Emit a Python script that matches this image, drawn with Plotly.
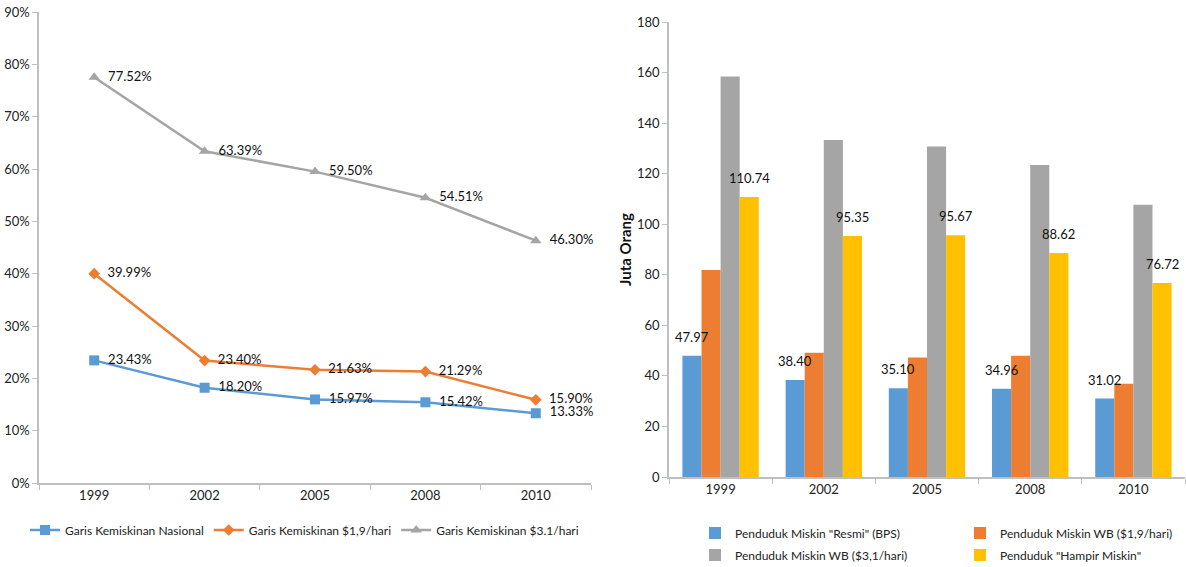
import plotly.graph_objects as go

years = ["1999", "2002", "2005", "2008", "2010"]

# Poverty rate (%) under three poverty lines
rate_nasional = [23.43, 18.20, 15.97, 15.42, 13.33]
rate_19 = [39.99, 23.40, 21.63, 21.29, 15.90]
rate_31 = [77.52, 63.39, 59.50, 54.51, 46.30]

# Poor population (million people)
pop_bps = [47.97, 38.40, 35.10, 34.96, 31.02]
pop_wb19 = [81.9, 49.2, 47.3, 48.0, 36.9]
pop_wb31 = [158.4, 133.3, 130.7, 123.4, 107.7]
pop_hampir = [110.74, 95.35, 95.67, 88.62, 76.72]

BLUE = "#5B9BD5"
ORANGE = "#ED7D31"
GREY = "#A5A5A5"
YELLOW = "#FFC000"
FONT = "Lato"
AXIS = "#BFBFBF"
BARGAP = 0.26
NBSP = "\u00a0"

fig = go.Figure()

line_specs = [
    ("Garis Kemiskinan Nasional", rate_nasional, BLUE, "square", 10),
    ("Garis Kemiskinan $1,9/hari", rate_19, ORANGE, "diamond", 9),
    ("Garis Kemiskinan $3.1/hari", rate_31, GREY, "triangle-up", 10),
]
for name, vals, col, sym, sz in line_specs:
    fig.add_trace(go.Scatter(
        x=years, y=vals, name=name, mode="lines+markers+text",
        line=dict(color=col, width=2.5),
        marker=dict(color=col, symbol=sym, size=sz),
        text=[f"{NBSP}{NBSP}{v:.2f}%" for v in vals],
        textposition="middle right",
        textfont=dict(family=FONT, size=13, color="#111"),
        xaxis="x", yaxis="y", legend="legend", cliponaxis=False,
    ))

# bar series: name, values, colour, value labels shown, legend row
bar_specs = [
    ('Penduduk Miskin "Resmi" (BPS)', pop_bps, BLUE, True, "legend2"),
    ("Penduduk Miskin WB ($1,9/hari)", pop_wb19, ORANGE, False, "legend2"),
    ("Penduduk Miskin WB ($3,1/hari)", pop_wb31, GREY, False, "legend3"),
    ('Penduduk "Hampir Miskin"', pop_hampir, YELLOW, True, "legend3"),
]
n_bars = len(bar_specs)
slot_w = (1 - BARGAP) / n_bars
annotations = []
for k, (name, vals, col, labelled, leg) in enumerate(bar_specs):
    fig.add_trace(go.Bar(
        x=years, y=vals, name=name, marker=dict(color=col, line=dict(width=0)),
        xaxis="x2", yaxis="y2", legend=leg,
    ))
    if labelled:
        offset = (k - (n_bars - 1) / 2) * slot_w
        for i, v in enumerate(vals):
            annotations.append(dict(
                x=i + offset, y=v, xref="x2", yref="y2", text=f"{v:.2f}",
                showarrow=False, yshift=19,
                font=dict(family=FONT, size=13, color="#111"),
            ))

W, H = 1186, 567
ml, mr, mt, mb = 39, 1, 12, 84
pw = W - ml - mr
ph = H - mt - mb

def px_x(p):
    return (p - ml) / pw

def px_y(p):
    return (H - mb - p) / ph

tick_font = dict(family=FONT, size=13, color="#222")
legend_font = dict(family=FONT, size=12, color="#222")

fig.update_layout(
    width=W, height=H,
    margin=dict(l=ml, r=mr, t=mt, b=mb, autoexpand=False),
    paper_bgcolor="white", plot_bgcolor="white",
    font=dict(family=FONT, color="#222"),
    barmode="group", bargap=BARGAP, bargroupgap=0,
    annotations=annotations,
    xaxis=dict(domain=[0, px_x(591)], type="category", range=[-0.5, 4.5],
               showgrid=False, showline=True, linecolor=AXIS, linewidth=1.5,
               ticks="outside", tickson="boundaries", ticklen=5, tickcolor=AXIS,
               tickfont=tick_font),
    yaxis=dict(domain=[0, 1], range=[0, 90], dtick=10, ticksuffix="%",
               showgrid=False, zeroline=False, showline=True, linecolor=AXIS,
               linewidth=1.5, ticks="outside", ticklen=5, tickcolor=AXIS,
               tickfont=tick_font),
    xaxis2=dict(domain=[px_x(669), 1], type="category", anchor="y2",
                range=[-0.5, 4.5], showgrid=False, showline=True,
                linecolor=AXIS, linewidth=1.5, ticks="outside",
                tickson="boundaries", ticklen=5, tickcolor=AXIS,
                tickfont=tick_font),
    yaxis2=dict(domain=[px_y(477), px_y(22)], anchor="x2", range=[0, 180],
                dtick=20, showgrid=False, zeroline=False, showline=True,
                linecolor=AXIS, linewidth=1.5, ticks="outside", ticklen=5,
                tickcolor=AXIS, tickfont=tick_font,
                title=dict(text="<b>Juta Orang</b>", standoff=2,
                           font=dict(family=FONT, size=15, color="#111"))),
    legend=dict(orientation="h", x=px_x(25), xanchor="left",
                y=px_y(530), yanchor="middle", font=legend_font,
                bgcolor="rgba(0,0,0,0)"),
    legend2=dict(orientation="h", x=px_x(695), xanchor="left",
                 y=px_y(533), yanchor="middle", font=legend_font,
                 itemwidth=30, entrywidth=220, bgcolor="rgba(0,0,0,0)"),
    legend3=dict(orientation="h", x=px_x(695), xanchor="left",
                 y=px_y(555), yanchor="middle", font=legend_font,
                 itemwidth=30, entrywidth=220, bgcolor="rgba(0,0,0,0)"),
)

fig.write_html("out.html")
